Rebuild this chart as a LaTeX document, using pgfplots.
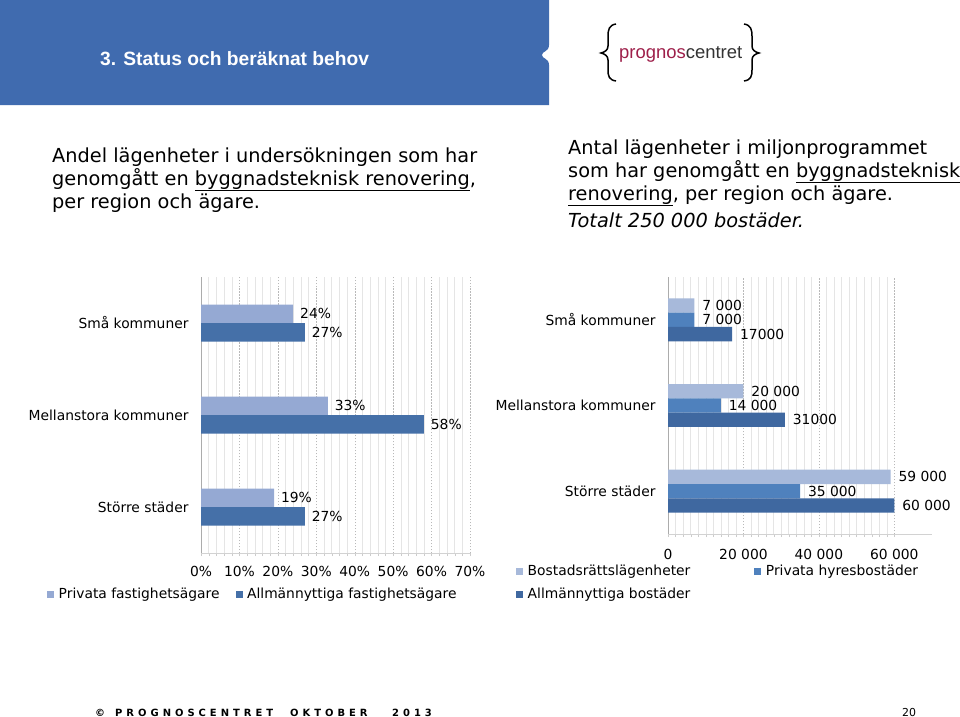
\documentclass[border=0pt]{standalone}
\usepackage{fontspec}
\setmainfont{DejaVu Sans}
\newfontfamily\arialfont{Liberation Sans}
\newfontfamily\footfont[LetterSpace=40]{DejaVu Sans}
\usepackage{pgfplots}
\usepackage{pgfplotstable}
\pgfplotsset{compat=1.18}

\definecolor{header}{RGB}{64,107,175}
\definecolor{lpriv}{RGB}{149,169,211}
\definecolor{lallm}{RGB}{69,112,168}
\definecolor{rbost}{RGB}{167,185,218}
\definecolor{rpriv}{RGB}{79,129,189}
\definecolor{rallm}{RGB}{63,104,160}
\definecolor{logored}{RGB}{158,31,74}

\newcommand\chartfont{\fontsize{13.9}{16}\selectfont}
\newcommand\subfont{\fontsize{19.4}{23}\selectfont}

% andel renoverade (%), per region
\pgfplotstableread[col sep=comma]{
pos,priv,allm
2,24,27
1,33,58
0,19,27
}\andel

% antal lagenheter, per region
\pgfplotstableread[col sep=comma]{
pos,bostr,privhyr,allm,lbostr,lprivhyr,lallm
2,7000,7000,17000,7 000,7 000,17000
1,20000,14000,31000,20 000,14 000,31000
0,59000,35000,60000,59 000,35 000,60 000
}\antal

\pgfplotsset{
  slide/.style={
    xbar, scale only axis, clip=false,
    ymin=-0.5, ymax=2.5, ytick={0,1,2},
    yticklabels={Större städer,Mellanstora kommuner,Små kommuner},
    xmin=0,
    axis x line*=bottom, axis y line*=left,
    x axis line style={gray!35},
    y axis line style={gray!65},
    xmajorgrids, xminorgrids,
    major grid style={gray!55, dash pattern=on 1.5pt off 1.5pt},
    minor grid style={gray!20},
    ytick style={draw=none},
    xtick style={gray!40},
    tick align=outside,
    major tick length=3bp, minor tick length=3bp,
    tick label style={font=\chartfont, text=black},
    yticklabel style={xshift=-6bp},
    /pgf/number format/assume math mode=true,
    scaled x ticks=false,
    nodes near coords,
    every node near coord/.append style={font=\chartfont, text=black, anchor=west},
    legend cell align=left,
    legend style={draw=none, fill=none, font=\chartfont, legend columns=2,
      /tikz/every odd column/.append style={column sep=2.5bp}},
  }
}

\begin{document}
\begin{tikzpicture}
\fill[white] (0,0) rectangle (960bp,-717bp);
\path[use as bounding box] (0,0) rectangle (960bp,-717bp);

% header
\fill[header] (0,0) -- (549bp,0) -- (549bp,-45bp)
  .. controls (549bp,-52bp) and (542bp,-51bp) .. (542bp,-55bp)
  .. controls (542bp,-59bp) and (549bp,-58bp) .. (549bp,-65bp)
  -- (549bp,-105bp) -- (0,-105bp) -- cycle;
\node[anchor=base west, inner sep=0, text=white, font=\arialfont\bfseries\fontsize{19.3}{22}\selectfont]
  at (100bp,-65bp) {3. Status och beräknat behov};

% logo
\draw[line width=1.5bp] (616bp,-24bp) .. controls (609bp,-25bp) and (608bp,-30bp) .. (608bp,-36bp) -- (608bp,-46bp)
  .. controls (608bp,-50bp) and (605bp,-52bp) .. (601bp,-53bp)
  .. controls (605bp,-54bp) and (608bp,-56bp) .. (608bp,-60bp) -- (608bp,-70bp)
  .. controls (608bp,-76bp) and (609bp,-80bp) .. (616bp,-81bp);
\draw[line width=1.5bp] (744bp,-24bp) .. controls (751bp,-25bp) and (752bp,-30bp) .. (752bp,-36bp) -- (752bp,-46bp)
  .. controls (752bp,-50bp) and (755bp,-52bp) .. (759bp,-53bp)
  .. controls (755bp,-54bp) and (752bp,-56bp) .. (752bp,-60bp) -- (752bp,-70bp)
  .. controls (752bp,-76bp) and (751bp,-80bp) .. (744bp,-81bp);
\node[anchor=base west, inner sep=0, font=\arialfont\fontsize{18.5}{20}\selectfont]
  at (619bp,-58bp) {\textcolor{logored}{prognos}\textcolor{black!80}{centret}};

% subtitles
\begin{scope}[every node/.style={anchor=base west, inner sep=0, font=\subfont}]
\node at (52bp,-162bp) {Andel lägenheter i undersökningen som har};
\node at (52bp,-185bp) {genomgått en \underline{byggnadsteknisk renovering},};
\node at (52bp,-208bp) {per region och ägare.};
\node at (568bp,-154bp) {Antal lägenheter i miljonprogrammet};
\node at (568bp,-177bp) {som har genomgått en \underline{byggnadsteknisk}};
\node at (568bp,-200bp) {\underline{renovering}, per region och ägare.};
\node at (568bp,-227bp) {\itshape Totalt 250 000 bostäder.};
\end{scope}

% left chart
\begin{axis}[slide, at={(201bp,-553bp)}, anchor=south west, width=269bp, height=276bp,
  xmax=70, xtick={0,10,...,70}, minor x tick num=4,
  xticklabel={\pgfmathprintnumber{\tick}\%},
  xticklabel style={yshift=-7bp},
  bar width=18.5bp, point meta=x,
  nodes near coords={\pgfmathprintnumber{\pgfplotspointmeta}\%},
  every node near coord/.append style={xshift=3.5bp},
  every axis plot post/.append style={legend image code/.code={\fill[##1] (0bp,-3.5bp) rectangle (7bp,3.5bp);}},
  legend style={at={(-0.5836,-0.1486)}, anchor=west,
    /tikz/every even column/.append style={column sep=14bp}},
]
\addplot[fill=lpriv, draw=none, bar shift=9.25bp] table[x=priv, y=pos] {\andel};
\addplot[fill=lallm, draw=none, bar shift=-9.25bp] table[x=allm, y=pos] {\andel};
\legend{Privata fastighetsägare, Allmännyttiga fastighetsägare}
\end{axis}

% right chart
\begin{axis}[slide, at={(668bp,-534bp)}, anchor=south west, width=264bp, height=257bp,
  xmax=70000, xtick={0,20000,40000,60000}, xticklabels={0,20 000,40 000,60 000},
  xticklabel style={yshift=-9bp},
  minor x tick num=9,
  bar width=14.3bp, point meta=explicit symbolic,
  every node near coord/.append style={xshift=4.5bp},
  every axis plot post/.append style={legend image code/.code={\fill[##1] (0bp,-3.5bp) rectangle (7bp,3.5bp);}},
  legend style={at={(-0.5871,-0.105)}, anchor=north west, row sep=7bp,
    /tikz/every even column/.append style={column sep=62bp}},
]
\addplot[fill=rbost, draw=none, bar shift=14.3bp] table[x=bostr, y=pos, meta=lbostr] {\antal};
\addplot[fill=rpriv, draw=none, bar shift=0bp] table[x=privhyr, y=pos, meta=lprivhyr] {\antal};
\addplot[fill=rallm, draw=none, bar shift=-14.3bp] table[x=allm, y=pos, meta=lallm] {\antal};
\legend{Bostadsrättslägenheter, Privata hyresbostäder, Allmännyttiga bostäder}
\end{axis}

% footer
\begin{scope}[every node/.style={anchor=base west, inner sep=0, font=\footfont\bfseries\fontsize{10}{12}\selectfont}]
\node at (95bp,-716bp) {\textcopyright};
\node at (115bp,-716bp) {PROGNOSCENTRET};
\node at (290bp,-716bp) {OKTOBER};
\node at (392bp,-716bp) {2013};
\end{scope}
\node[anchor=base west, inner sep=0, font=\fontsize{11}{13}\selectfont] at (902bp,-716bp) {20};
\end{tikzpicture}
\end{document}
